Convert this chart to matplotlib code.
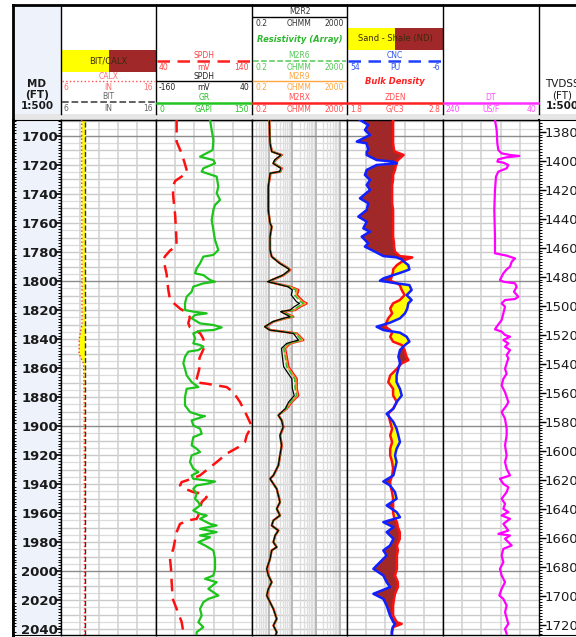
import matplotlib
matplotlib.use("Agg")
import matplotlib.pyplot as plt
import numpy as np
from matplotlib.patches import Rectangle
from matplotlib.ticker import MultipleLocator

W, H, DPI = 576, 637, 100

# depth window (MD, ft) and MD -> TVDSS shift
MD_TOP, MD_BOT = 1689.0, 2044.0
TVD_SHIFT = 317.0

# --- log data (depth in MD ft) ---
BIT_SIZE = 8.5  # in
CALX_LOG = [(1689, 8.18), (1720, 8.18), (1780, 8.2), (1830, 8.22), (1835, 8.05),
            (1840, 7.92), (1850, 7.9), (1853, 8.1), (1857, 8.38), (1880, 8.44),
            (1970, 8.47), (2044, 8.48)]

SP_LOG = [(1689, 61.5), (1704, 61.5), (1712, 66.7), (1719, 70), (1725, 72.6),
          (1728, 66.7), (1731, 60), (1735, 57.4), (1742, 58), (1755, 60),
          (1768, 61), (1776, 61.5), (1779, 54.6), (1783, 49.4), (1785, 47.6),
          (1795, 51), (1806, 52.8), (1813, 54.6), (1815, 58), (1819, 65),
          (1821, 70), (1825, 75.4), (1829, 73.6), (1832, 75.4), (1836, 86),
          (1840, 89.4), (1847, 89.4), (1853, 85.3), (1860.5, 85.1), (1867.4, 82.4),
          (1869.7, 80.6), (1870.8, 92.8), (1873.1, 113.6), (1876.6, 120.5),
          (1883.4, 127.5), (1892.6, 134.5), (1900, 139.7), (1906.4, 134.5),
          (1911, 132.7), (1914.5, 125.8), (1919, 113.6), (1924.8, 103.2),
          (1929.4, 94.5), (1934, 85.8), (1936.3, 77.2), (1938.6, 66.7),
          (1940.9, 65), (1943.2, 70.2), (1945.5, 78.9), (1946.7, 89.3),
          (1949, 92.8), (1952.4, 87.6), (1957, 85.8), (1961.6, 84.1),
          (1963.9, 82.4), (1965, 73.7), (1967.4, 65), (1973.1, 61.5),
          (1984.6, 58), (1991.5, 54.6), (1998.4, 55.6), (2007.6, 56.3),
          (2019, 57.4), (2026, 61.5), (2035, 66.7), (2044, 69)]

GR_LOG = [(1689, 84.4), (1695.9, 87), (1702.8, 89.6), (1709.7, 88.5), (1714.3, 68.8),
          (1716.6, 89.6), (1718.9, 92.2), (1722.3, 74), (1724.6, 71.4), (1728, 94.8),
          (1735, 97.4), (1739.5, 94.8), (1744.1, 100), (1747.6, 92.2), (1751, 89.6),
          (1757.9, 87), (1764.8, 89.6), (1771.7, 92.2), (1778.6, 97.4), (1782, 89.6),
          (1783.2, 74), (1787.8, 68.8), (1791.3, 63.5), (1794.7, 61), (1795.9, 74),
          (1799.3, 84.4), (1800.5, 92.2), (1801.6, 74), (1803.9, 58.3), (1807.4, 55.7),
          (1810.8, 47.9), (1815.4, 45.3), (1820, 45.3), (1821.1, 58.3), (1822.3, 79.2),
          (1823.4, 61), (1825.7, 55.7), (1829.2, 68.8), (1830.3, 89.6), (1832, 102.6),
          (1833.8, 89.6), (1834.3, 68.8), (1836.1, 58.3), (1839.5, 61), (1843, 58.3),
          (1844.1, 68.8), (1845.3, 74), (1847.6, 66.2), (1848.7, 50.5), (1852.2, 45.3),
          (1856.8, 42.7), (1860.5, 45.3), (1865, 47.9), (1869.7, 55.7), (1873.1, 66.2),
          (1874.3, 47.9), (1880, 45.3), (1885.7, 45.3), (1890.3, 53.1), (1892.6, 68.8),
          (1893.1, 76.6), (1896.1, 55.7), (1899.5, 58.3), (1901.8, 68.8), (1905.3, 71.4),
          (1907.6, 58.3), (1913.3, 55.7), (1915.6, 63.5), (1917.9, 68.8), (1920.2, 55.7),
          (1924.8, 53.1), (1929.4, 58.3), (1931.7, 66.2), (1934, 55.7), (1936.3, 58.3),
          (1937.5, 79.2), (1938.2, 92.2), (1939.8, 79.2), (1940.9, 63.5), (1943.2, 58.3),
          (1946.7, 63.5), (1950.1, 61), (1952.4, 66.2), (1954.7, 68.8), (1958.2, 58.3),
          (1960.5, 68.8), (1961.6, 79.2), (1963.9, 68.8), (1967.4, 84.4), (1968.5, 94.8),
          (1970.8, 68.8), (1973.1, 94.8), (1975.4, 68.8), (1976.6, 84.4), (1980, 66.2),
          (1982.3, 76.6), (1985.7, 89.6), (1991.5, 92.2), (1998.4, 92.2), (2003, 89.6),
          (2005.3, 76.6), (2007.6, 94.8), (2012.2, 81.8), (2016.8, 97.4), (2019.1, 81.8),
          (2021.4, 74), (2026, 68.8), (2030.6, 71.4), (2035.2, 66.2), (2038.6, 74),
          (2042, 63.5), (2044, 63.5)]

# depth, M2R2, M2R6, M2R9, M2RX (ohmm)
RES_LOG = [(1689.0, 1.07, 1.07, 1.07, 1.07), (1705.1, 1.15, 1.15, 1.15, 1.15),
           (1710.8, 1.35, 1.4, 1.4, 1.4), (1713.1, 3.3, 3.5, 3.55, 3.6),
           (1716.6, 1.8, 1.86, 1.86, 1.9), (1718.9, 1.55, 1.58, 1.58, 1.6),
           (1722.3, 3.3, 3.5, 3.55, 3.6), (1724.6, 2.9, 3.0, 3.0, 3.1),
           (1725.7, 1.15, 1.15, 1.15, 1.2), (1735.0, 0.97, 0.97, 0.97, 0.97),
           (1751.0, 0.97, 0.97, 0.97, 0.97), (1760.2, 1.15, 1.15, 1.15, 1.15),
           (1762.5, 1.35, 1.35, 1.35, 1.35), (1769.4, 1.15, 1.15, 1.15, 1.15),
           (1778.6, 1.15, 1.15, 1.15, 1.15), (1783.2, 1.35, 1.35, 1.35, 1.35),
           (1787.8, 2.9, 3.0, 3.0, 3.1), (1791.3, 6.5, 6.8, 6.8, 7.0),
           (1792.4, 7.6, 7.9, 8.0, 8.2), (1795.9, 4.0, 4.2, 4.2, 4.3),
           (1799.3, 1.3, 1.35, 1.35, 1.4), (1800.5, 0.9, 0.97, 0.97, 1.0),
           (1801.6, 1.8, 1.86, 1.86, 1.9), (1803.9, 6.5, 7.5, 7.8, 8.0),
           (1806.2, 10.0, 14.0, 16.0, 18.0), (1809.7, 9.0, 12.5, 14.0, 15.5),
           (1814.3, 15.0, 22.0, 26.0, 29.0), (1815.4, 20.0, 30.0, 36.0, 40.0),
           (1817.7, 12.0, 17.0, 19.0, 21.0), (1820.0, 8.0, 11.0, 12.0, 13.0),
           (1821.1, 3.2, 3.5, 3.5, 3.6), (1824.6, 8.0, 10.0, 10.5, 11.0),
           (1825.7, 4.2, 4.8, 4.9, 5.0), (1828.0, 1.5, 1.58, 1.58, 1.6),
           (1831.5, 0.68, 0.7, 0.7, 0.72), (1833.8, 1.1, 1.15, 1.15, 1.2),
           (1834.9, 3.6, 4.0, 4.1, 4.2), (1836.1, 11.0, 13.5, 14.5, 15.2),
           (1840.7, 18.0, 24.0, 27.0, 29.0), (1843.0, 5.8, 7.0, 7.6, 8.0),
           (1846.4, 3.5, 4.3, 4.6, 4.9), (1852.2, 3.8, 5.0, 5.4, 5.8),
           (1859.1, 4.3, 5.8, 6.3, 6.8), (1867.4, 9.5, 12.5, 14.0, 15.2),
           (1874.3, 10.0, 13.0, 14.5, 15.2), (1878.9, 12.0, 15.0, 16.5, 17.8),
           (1883.4, 7.0, 8.3, 8.8, 9.4), (1888.0, 5.0, 5.5, 5.7, 5.8),
           (1891.5, 3.0, 3.0, 3.0, 3.0), (1892.6, 2.57, 2.57, 2.57, 2.6),
           (1896.1, 3.55, 3.55, 3.55, 3.6), (1900.7, 4.1, 4.17, 4.17, 4.2),
           (1906.4, 3.0, 3.0, 3.0, 3.05), (1913.3, 3.5, 3.55, 3.55, 3.6),
           (1920.2, 3.0, 3.0, 3.0, 3.05), (1927.1, 2.57, 2.57, 2.57, 2.6),
           (1934.0, 1.58, 1.58, 1.58, 1.6), (1936.3, 1.15, 1.15, 1.15, 1.15),
           (1939.8, 1.58, 1.58, 1.58, 1.6), (1943.2, 2.19, 2.19, 2.19, 2.2),
           (1947.8, 2.57, 2.57, 2.57, 2.6), (1952.4, 3.0, 3.0, 3.0, 3.05),
           (1957.0, 2.19, 2.19, 2.19, 2.2), (1961.6, 3.0, 3.0, 3.0, 3.05),
           (1965.0, 1.58, 1.58, 1.58, 1.6), (1968.5, 1.35, 1.35, 1.35, 1.35),
           (1972.0, 2.57, 2.57, 2.57, 2.6), (1975.4, 1.86, 1.86, 1.86, 1.9),
           (1980.0, 1.58, 1.58, 1.58, 1.6), (1983.4, 2.19, 2.19, 2.19, 2.2),
           (1985.7, 1.35, 1.35, 1.35, 1.35), (1991.5, 1.15, 1.15, 1.15, 1.15),
           (1998.4, 0.83, 0.83, 0.83, 0.85), (2003.0, 0.97, 0.97, 0.97, 1.0),
           (2007.6, 1.35, 1.35, 1.35, 1.35), (2012.2, 0.97, 0.97, 0.97, 1.0),
           (2016.8, 0.83, 0.83, 0.83, 0.85), (2021.4, 1.15, 1.15, 1.15, 1.15),
           (2026.0, 1.58, 1.58, 1.58, 1.6), (2032.9, 2.19, 2.19, 2.19, 2.2),
           (2037.5, 1.58, 1.58, 1.58, 1.6), (2042.0, 2.19, 2.19, 2.19, 2.2),
           (2044.0, 2.0, 2.0, 2.0, 2.0)]

# depth, ZDEN (g/cc), CNC (pu)
DEN_LOG = [(1689.0, 2.28, 45.9), (1692.4, 2.28, 40.7), (1695.9, 2.28, 42.8),
           (1699.3, 2.28, 39.6), (1703.9, 2.28, 47.9), (1705.1, 2.28, 41.7),
           (1709.7, 2.29, 40.7), (1710.8, 2.30, 41.7), (1713.1, 2.39, 41.7),
           (1716.6, 2.33, 35.5), (1717.7, 2.32, 25.0), (1718.9, 2.32, 23.0),
           (1720.0, 2.31, 35.5), (1723.4, 2.30, 41.7), (1726.9, 2.28, 42.8),
           (1730.3, 2.28, 39.6), (1733.8, 2.27, 41.7), (1737.2, 2.27, 39.6),
           (1743.0, 2.27, 45.9), (1746.4, 2.27, 40.7), (1751.0, 2.28, 41.7),
           (1755.6, 2.28, 46.9), (1759.1, 2.28, 41.7), (1763.7, 2.28, 43.8),
           (1766.0, 2.28, 39.6), (1769.4, 2.28, 44.8), (1774.0, 2.29, 40.7),
           (1776.3, 2.29, 42.8), (1779.8, 2.30, 36.5), (1782.8, 2.35, 31.3),
           (1783.7, 2.48, 23.0), (1785.1, 2.42, 19.8), (1786.7, 2.37, 18.4),
           (1789.0, 2.32, 15.7), (1792.0, 2.28, 15.0), (1793.6, 2.28, 18.8),
           (1795.9, 2.27, 25.0), (1798.2, 2.26, 31.3), (1799.8, 2.25, 33.4),
           (1801.6, 2.32, 23.0), (1802.8, 2.35, 15.0), (1806.2, 2.37, 13.6),
           (1809.7, 2.40, 16.7), (1813.1, 2.35, 13.6), (1815.4, 2.28, 15.7),
           (1818.9, 2.25, 16.3), (1822.3, 2.27, 17.8), (1825.7, 2.23, 20.9),
           (1828.7, 2.21, 27.1), (1831.5, 2.20, 35.5), (1833.8, 2.25, 31.3),
           (1835.6, 2.27, 20.9), (1838.4, 2.25, 16.7), (1841.8, 2.28, 15.0),
           (1844.1, 2.37, 17.8), (1847.6, 2.40, 20.9), (1852.2, 2.42, 21.9),
           (1854.5, 2.44, 21.3), (1856.8, 2.37, 20.9), (1860.5, 2.32, 21.9),
           (1865.1, 2.25, 23.0), (1869.7, 2.23, 23.0), (1874.3, 2.28, 20.9),
           (1878.9, 2.28, 19.8), (1883.4, 2.32, 23.0), (1888.0, 2.28, 25.0),
           (1891.5, 2.23, 29.2), (1897.2, 2.25, 25.0), (1901.8, 2.27, 23.0),
           (1906.4, 2.25, 21.9), (1911.0, 2.27, 20.9), (1915.6, 2.25, 23.0),
           (1920.2, 2.25, 24.0), (1924.8, 2.27, 23.0), (1929.4, 2.28, 24.0),
           (1934.0, 2.27, 25.0), (1938.2, 2.25, 31.3), (1940.9, 2.25, 27.1),
           (1945.5, 2.27, 24.0), (1950.1, 2.28, 23.0), (1954.7, 2.28, 29.2),
           (1959.3, 2.28, 23.0), (1962.8, 2.29, 20.9), (1966.2, 2.32, 31.3),
           (1969.7, 2.33, 25.0), (1973.1, 2.35, 29.2), (1977.7, 2.35, 25.0),
           (1982.3, 2.32, 27.1), (1985.7, 2.33, 31.3), (1989.2, 2.32, 29.2),
           (1993.8, 2.32, 33.4), (1998.4, 2.32, 37.5), (2003.0, 2.30, 31.3),
           (2007.6, 2.33, 29.2), (2011.0, 2.33, 27.1), (2015.6, 2.30, 37.5),
           (2019.1, 2.29, 31.3), (2023.7, 2.28, 29.2), (2030.6, 2.28, 27.1),
           (2035.2, 2.32, 25.0), (2036.3, 2.37, 24.0), (2038.6, 2.28, 25.4),
           (2042.0, 2.27, 26.1), (2044.0, 2.27, 26.0)]

DT_LOG = [(1689, 131.7), (1695.9, 128.2), (1705.1, 126.8), (1709.7, 124.7),
          (1712.0, 117.8), (1713.1, 100.4), (1713.8, 81.0), (1714.7, 107.4),
          (1716.1, 124.7), (1717.7, 126.8), (1718.4, 114.3), (1720.0, 103.9),
          (1722.3, 107.4), (1724.6, 124.7), (1728.0, 129.6), (1737.2, 131.7),
          (1751.0, 133.1), (1769.4, 131.7), (1780.9, 131.7), (1782.5, 107.4),
          (1784.4, 90.0), (1786.7, 96.9), (1790.1, 100.4), (1792.0, 107.4),
          (1794.7, 114.3), (1799.3, 121.3), (1800.5, 114.3), (1801.6, 90.0),
          (1803.9, 86.5), (1807.4, 92.1), (1810.8, 83.1), (1812.4, 90.0),
          (1813.1, 110.8), (1815.4, 117.8), (1817.7, 110.8), (1822.3, 114.3),
          (1826.9, 117.8), (1831.5, 128.2), (1833.3, 131.7), (1834.9, 117.8),
          (1837.2, 110.8), (1838.4, 100.4), (1840.7, 114.3), (1843.0, 103.9),
          (1845.3, 110.8), (1847.6, 100.4), (1851.0, 107.4), (1853.3, 103.9),
          (1856.8, 107.4), (1860.5, 110.8), (1863.9, 107.4), (1867.4, 114.3),
          (1872.0, 117.8), (1876.6, 110.8), (1883.4, 103.9), (1885.7, 107.4),
          (1890.3, 117.8), (1894.9, 110.8), (1901.8, 107.4), (1906.4, 107.4),
          (1913.3, 110.8), (1920.2, 107.4), (1924.8, 110.8), (1929.4, 107.4),
          (1934.0, 100.4), (1936.3, 121.3), (1939.8, 114.3), (1942.1, 103.9),
          (1945.5, 107.4), (1950.1, 117.8), (1953.6, 110.8), (1957.0, 114.3),
          (1959.3, 103.9), (1961.6, 117.8), (1963.9, 100.4), (1967.4, 114.3),
          (1972.0, 103.9), (1974.3, 124.7), (1975.4, 100.4), (1977.7, 110.8),
          (1982.3, 96.9), (1984.6, 114.3), (1989.2, 117.8), (1993.8, 114.3),
          (1998.4, 121.3), (2003.0, 117.8), (2007.6, 110.8), (2012.2, 117.8),
          (2016.8, 122.6), (2019.1, 114.3), (2023.7, 107.4), (2028.3, 110.8),
          (2036.3, 103.9), (2039.8, 110.8), (2043.2, 107.4)]

MD_TICKS = list(range(1700, 2041, 20))
TVD_TICKS = list(range(1380, 1721, 20))

# --- layout (pixels) ---
EDGES = [13, 61, 156, 252, 347, 443, 539, 600]
HEAD_TOP, HEAD_BOT = 5, 114
DATA_TOP, DATA_BOT = 120, 635
FS = 5.5
YELLOW, BROWN = "#ffff00", "#a02828"
DEPTH_BG = "#eef3fb"


def cols(log):
    return [np.array(c, dtype=float) for c in zip(*log)]


def rect(x0, y0, x1, y1):
    return [x0 / W, 1 - y1 / H, (x1 - x0) / W, (y1 - y0) / H]


def depth_grid(ax):
    for d in np.arange(1690, MD_BOT, 5):
        if d % 100 == 0:
            ax.axhline(d, color="#8c8c8c", lw=1.0, zorder=0.5)
        elif d % 10 == 0:
            ax.axhline(d, color="#cacaca", lw=1.0, zorder=0.4)
        else:
            ax.axhline(d, color="#dcdcdc", lw=0.9, zorder=0.3)


def strip(ax):
    ax.tick_params(which="both", left=False, right=False, top=False, bottom=False,
                   labelleft=False, labelbottom=False, labeltop=False, labelright=False)


def track(i, xlim, log=False):
    ax = fig.add_axes(rect(EDGES[i], DATA_TOP, EDGES[i + 1], DATA_BOT), zorder=2)
    if log:
        ax.set_xscale("log")
    ax.set_xlim(*xlim)
    ax.set_ylim(MD_BOT, MD_TOP)
    depth_grid(ax)
    if log:
        for base in [0.1, 1, 10, 100, 1000]:
            for k in range(1, 10):
                v = base * k
                if xlim[0] < v < xlim[1]:
                    ax.axvline(v, color="#b4b4b4" if k == 1 else "#dedede",
                               lw=1.3 if k == 1 else 1.0, zorder=0.4)
    else:
        for v in np.linspace(xlim[0], xlim[1], 6)[1:-1]:
            ax.axvline(v, color="#d0d0d0", lw=1.1, zorder=0.4)
    strip(ax)
    for s in ax.spines.values():
        s.set_linewidth(1.0)
    return ax


def twin(ax, xlim):
    t = ax.twiny()
    t.set_xlim(*xlim)
    # twiny() turns the host's bottom ticks back on
    strip(ax)
    strip(t)
    for s in t.spines.values():
        s.set_visible(False)
    return t


fig = plt.figure(figsize=(W / DPI, H / DPI), dpi=DPI)
fig.patch.set_facecolor("white")

# ---------------- header ----------------
head = fig.add_axes([0, 0, 1, 1], zorder=0)
head.set_xlim(0, W)
head.set_ylim(H, 0)
head.axis("off")

head.add_patch(Rectangle((EDGES[0], HEAD_TOP), EDGES[1] - EDGES[0], HEAD_BOT - HEAD_TOP,
                         color=DEPTH_BG, lw=0))
head.add_patch(Rectangle((EDGES[0], HEAD_BOT), W - EDGES[0], DATA_TOP - HEAD_BOT,
                         color="#e6e6e6", lw=0))
for x in EDGES[1:7]:
    head.plot([x, x], [HEAD_TOP, HEAD_BOT], color="black", lw=1.0)
head.plot([EDGES[0], W], [HEAD_TOP, HEAD_TOP], color="black", lw=2.0)
head.plot([EDGES[0], EDGES[0]], [HEAD_TOP, H], color="black", lw=2.0)

for cx, lines, weights in [(37, ("MD", "(FT)", "1:500"), ("bold", "bold", "bold")),
                           (562, ("TVDSS", "(FT)", "1:500"), ("normal", "normal", "bold"))]:
    for y, s, wt in zip([84, 95, 106], lines, weights):
        head.text(cx, y, s, ha="center", va="center", fontsize=7.5, fontweight=wt,
                  color="#1a1a1a")


def curve_head(i, y_name, y_line, name, scale, color, ls="-", lw=1.0, name_color=None):
    x0, x1 = EDGES[i], EDGES[i + 1]
    head.text((x0 + x1) / 2, y_name, name, ha="center", va="center", fontsize=FS,
              color=name_color or color)
    head.plot([x0 + 1, x1 - 1], [y_line, y_line], color=color, ls=ls, lw=lw)
    y_sc = y_line + 6.5
    for x, s, ha in zip([x0 + 3, (x0 + x1) / 2, x1 - 3], scale, ["left", "center", "right"]):
        head.text(x, y_sc, s, ha=ha, va="center", fontsize=FS, color=name_color or color)


def fill_box(i, y0, y1, label):
    x0, x1 = EDGES[i], EDGES[i + 1]
    xm = (x0 + x1) / 2
    head.add_patch(Rectangle((x0, y0), xm - x0, y1 - y0, color=YELLOW, lw=0))
    head.add_patch(Rectangle((xm, y0), x1 - xm, y1 - y0, color=BROWN, lw=0))
    head.text(xm, (y0 + y1) / 2, label, ha="center", va="center", fontsize=FS + 0.5, color="#3a2a10")


fill_box(1, 50, 72, "BIT/CALX")
curve_head(1, 76.5, 81, "CALX", ("6", "IN", "16"), "#ff4d4d", ls=":", lw=1.0, name_color="#ff7070")
curve_head(1, 96.5, 102, "BIT", ("6", "IN", "16"), "#555555", ls="--", lw=1.3, name_color="#666666")

curve_head(2, 56, 61, "SPDH", ("40", "mV", "140"), "#ff2020", ls=(0, (5, 3)), lw=1.8, name_color="#ff4040")
curve_head(2, 76.5, 81, "SPDH", ("-160", "mV", "40"), "black", lw=1.0, name_color="#222222")
curve_head(2, 97, 103, "GR", ("0", "GAPI", "150"), "#22c422", lw=1.8)

curve_head(3, 11.5, 17, "M2R2", ("0.2", "OHMM", "2000"), "black", lw=1.0, name_color="#333333")
head.text((EDGES[3] + EDGES[4]) / 2, 40, "Resistivity (Array)", ha="center", va="center",
          fontsize=FS + 0.5, color="#2fb82f", fontweight="bold", style="italic")
curve_head(3, 56, 61, "M2R6", ("0.2", "OHMM", "2000"), "#55c855", ls="--", lw=1.1)
curve_head(3, 76.5, 81, "M2R9", ("0.2", "OHMM", "2000"), "#ffa640", lw=1.0)
curve_head(3, 97, 103, "M2RX", ("0.2", "OHMM", "2000"), "#ff2020", lw=1.8, name_color="#ff5050")

fill_box(4, 28, 50, "Sand - Shale (ND)")
curve_head(4, 56, 61, "CNC", ("54", "PU", "-6"), "#2040ff", ls=(0, (5, 3)), lw=1.8, name_color="#3355ee")
head.text((EDGES[4] + EDGES[5]) / 2, 82, "Bulk Density", ha="center", va="center",
          fontsize=FS + 0.5, color="#ff2020", fontweight="bold", style="italic")
curve_head(4, 97, 103, "ZDEN", ("1.8", "G/C3", "2.8"), "#ff2020", lw=1.8, name_color="#ff5050")

curve_head(5, 97, 103, "DT", ("240", "US/F", "40"), "#ff30ff", lw=1.8, name_color="#ff50ff")

# ---------------- depth tracks ----------------
md = fig.add_axes(rect(EDGES[0], DATA_TOP, EDGES[1], DATA_BOT), zorder=2)
md.set_facecolor(DEPTH_BG)
md.set_ylim(MD_BOT, MD_TOP)
md.set_xticks([])
md.set_yticks(MD_TICKS)
md.set_yticklabels([str(t) for t in MD_TICKS], ha="right", fontweight="bold", color="#1a1a1a")
md.yaxis.set_minor_locator(MultipleLocator(2))
md.tick_params(axis="y", which="major", direction="in", length=4, width=1.2, left=False,
               right=True, labelleft=False, labelright=True, pad=-2, labelsize=9.5)
md.tick_params(axis="y", which="minor", direction="in", length=2, width=0.7, left=True, right=True)
md.spines["left"].set_linewidth(2.0)
md.spines["right"].set_linewidth(1.0)

tvd = fig.add_axes(rect(EDGES[6], DATA_TOP, EDGES[7], DATA_BOT), zorder=2)
tvd.set_ylim(MD_BOT - TVD_SHIFT, MD_TOP - TVD_SHIFT)
tvd.set_xticks([])
tvd.set_yticks(TVD_TICKS)
tvd.set_yticklabels([str(t) for t in TVD_TICKS], ha="left", color="#1a1a1a")
tvd.yaxis.set_minor_locator(MultipleLocator(2))
tvd.tick_params(axis="y", which="major", direction="in", length=5, width=1.0, left=True,
                right=False, labelleft=True, pad=-4, labelsize=9.5)
tvd.tick_params(axis="y", which="minor", direction="in", length=2, width=0.7, left=True, right=False)
tvd.spines["left"].set_linewidth(1.5)

# ---------------- track 1: caliper ----------------
t1 = track(1, (6, 16))
cd, calx = cols(CALX_LOG)
t1.fill_betweenx(cd, calx, BIT_SIZE, where=calx < BIT_SIZE, color=YELLOW, lw=0, zorder=1)
t1.fill_betweenx(cd, calx, BIT_SIZE, where=calx > BIT_SIZE, color=BROWN, lw=0, zorder=1)
t1.axvline(BIT_SIZE, color="#333333", ls="--", lw=1.0, zorder=3)
t1.plot(calx, cd, color="#ff3030", ls=":", lw=1.0, zorder=4)

# ---------------- track 2: SP / GR ----------------
t2 = track(2, (40, 140))
sd, sp = cols(SP_LOG)
t2.plot(sp, sd, color="#ff1010", ls=(0, (5, 3)), lw=1.8, zorder=3)
t2g = twin(t2, (0, 150))
gd, gr = cols(GR_LOG)
t2g.plot(gr, gd, color="#1cc41c", lw=1.6, zorder=3)

# ---------------- track 3: resistivity ----------------
t3 = track(3, (0.2, 2000), log=True)
rd, m2r2, m2r6, m2r9, m2rx = cols(RES_LOG)
t3.plot(m2rx, rd, color="#ff1010", lw=1.7, zorder=3)
t3.plot(m2r9, rd, color="#ffa030", lw=1.1, zorder=3)
t3.plot(m2r6, rd, color="#30c030", lw=1.1, ls="--", zorder=3)
t3.plot(m2r2, rd, color="black", lw=0.9, zorder=4)

# ---------------- track 4: density / neutron ----------------
t4 = track(4, (1.8, 2.8))
t4n = twin(t4, (54, -6))
dd, zden, cnc = cols(DEN_LOG)
# neutron expressed on the density scale for the crossover fill
disp = t4n.transData.transform(np.column_stack([cnc, dd]))
cnc_on_den = t4.transData.inverted().transform(disp)[:, 0]
t4.fill_betweenx(dd, cnc_on_den, zden, where=cnc_on_den <= zden, interpolate=True,
                 color=BROWN, lw=0, zorder=1)
t4.fill_betweenx(dd, cnc_on_den, zden, where=cnc_on_den > zden, interpolate=True,
                 color=YELLOW, lw=0, zorder=1)
t4.plot(zden, dd, color="#ff1010", lw=1.8, zorder=3)
t4n.plot(cnc, dd, color="#1020ff", lw=1.8, zorder=3)

# ---------------- track 5: sonic ----------------
t5 = track(5, (240, 40))
td, dt = cols(DT_LOG)
t5.plot(dt, td, color="#ff00ff", lw=1.6, zorder=3)

fig.savefig("out.png", dpi=DPI, facecolor="white")
